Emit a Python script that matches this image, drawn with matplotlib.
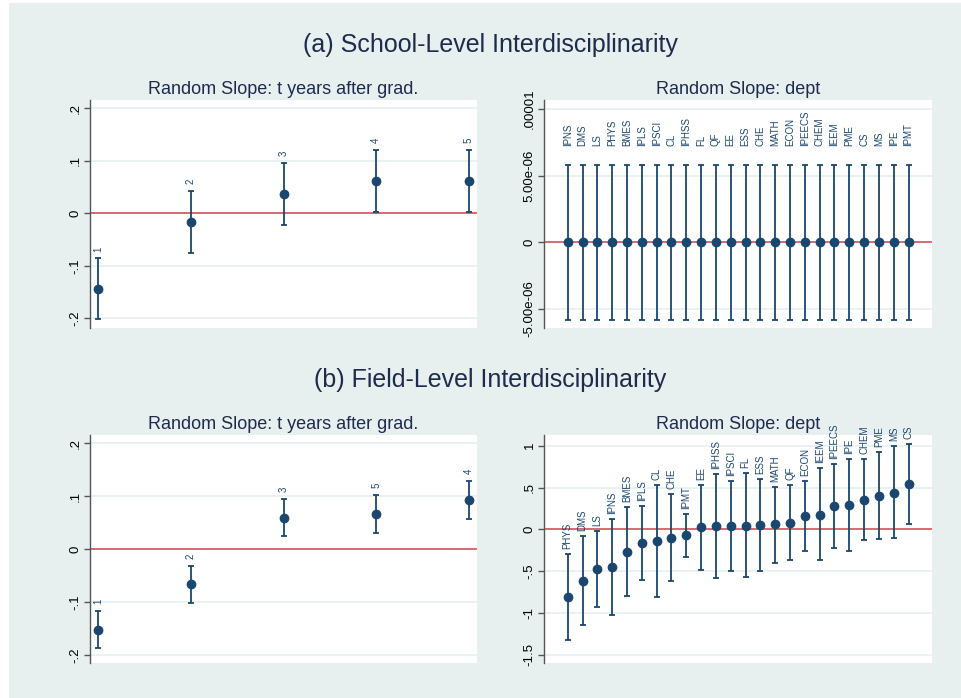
import matplotlib
matplotlib.use("Agg")
import matplotlib.pyplot as plt
from matplotlib.patches import Rectangle

plt.rcParams['font.family'] = ['Liberation Sans', 'DejaVu Sans']

# (a) school-level, random slope by t years after grad.
school_t_labels = ["1", "2", "3", "4", "5"]
school_t_est = [-0.144, -0.017, 0.037, 0.061, 0.062]
school_t_lo = [-0.202, -0.076, -0.022, 0.002, 0.003]
school_t_hi = [-0.086, 0.043, 0.096, 0.120, 0.121]

# (a) school-level, random slope by dept
school_dept_labels = ["IPNS", "DMS", "LS", "PHYS", "BMES", "IPLS", "IPSCI", "CL",
                      "IPHSS", "FL", "QF", "EE", "ESS", "CHE", "MATH", "ECON",
                      "IPEECS", "CHEM", "IEEM", "PME", "CS", "MS", "IPE", "IPMT"]
school_dept_est = [0.0, 0.0, 0.0, 0.0, 0.0, 0.0, 0.0, 0.0, 0.0, 0.0, 0.0, 0.0,
                   0.0, 0.0, 0.0, 0.0, 0.0, 0.0, 0.0, 0.0, 0.0, 0.0, 0.0, 0.0]
school_dept_lo = [-5.8e-6, -5.8e-6, -5.8e-6, -5.8e-6, -5.8e-6, -5.8e-6, -5.8e-6, -5.8e-6,
                  -5.8e-6, -5.8e-6, -5.8e-6, -5.8e-6, -5.8e-6, -5.8e-6, -5.8e-6, -5.8e-6,
                  -5.8e-6, -5.8e-6, -5.8e-6, -5.8e-6, -5.8e-6, -5.8e-6, -5.8e-6, -5.8e-6]
school_dept_hi = [5.8e-6, 5.8e-6, 5.8e-6, 5.8e-6, 5.8e-6, 5.8e-6, 5.8e-6, 5.8e-6,
                  5.8e-6, 5.8e-6, 5.8e-6, 5.8e-6, 5.8e-6, 5.8e-6, 5.8e-6, 5.8e-6,
                  5.8e-6, 5.8e-6, 5.8e-6, 5.8e-6, 5.8e-6, 5.8e-6, 5.8e-6, 5.8e-6]

# (b) field-level, random slope by t years after grad.
field_t_labels = ["1", "2", "3", "5", "4"]
field_t_est = [-0.1525, -0.067, 0.059, 0.066, 0.092]
field_t_lo = [-0.188, -0.102, 0.024, 0.031, 0.057]
field_t_hi = [-0.117, -0.0315, 0.094, 0.1015, 0.128]

# (b) field-level, random slope by dept
field_dept_labels = ["PHYS", "DMS", "LS", "IPNS", "BMES", "IPLS", "CL", "CHE",
                     "IPMT", "EE", "IPHSS", "IPSCI", "FL", "ESS", "MATH", "QF",
                     "ECON", "IEEM", "IPEECS", "IPE", "CHEM", "PME", "MS", "CS"]
field_dept_est = [-0.813, -0.614, -0.478, -0.447, -0.271, -0.167, -0.144, -0.104,
                  -0.068, 0.028, 0.036, 0.040, 0.044, 0.052, 0.060, 0.076,
                  0.159, 0.175, 0.279, 0.291, 0.355, 0.403, 0.439, 0.542]
field_dept_lo = [-1.328, -1.140, -0.933, -1.021, -0.801, -0.610, -0.813, -0.622,
                 -0.327, -0.490, -0.582, -0.498, -0.574, -0.502, -0.399, -0.371,
                 -0.263, -0.371, -0.219, -0.259, -0.132, -0.116, -0.108, 0.060]
field_dept_hi = [-0.295, -0.080, -0.020, 0.124, 0.263, 0.275, 0.530, 0.419,
                 0.187, 0.534, 0.658, 0.574, 0.670, 0.602, 0.510, 0.526,
                 0.582, 0.730, 0.785, 0.845, 0.845, 0.929, 0.997, 1.025]

NAVY = '#1a476f'
BG = '#e7efef'
GRID = '#e9f1f2'
RED = '#d9434f'
TITLE = '#1e2b4d'


def draw_panel(ax, labels, est, lo, hi, xlim, ylim, yticks, yticklabels,
               label_off, title):
    x = list(range(1, len(labels) + 1))
    ax.set_facecolor('white')
    for t in yticks:
        ax.axhline(t, color=GRID, lw=1.4, zorder=0)
    ax.axhline(0, color=RED, lw=1.1, zorder=1)
    yerr = [[e - l for e, l in zip(est, lo)], [h - e for e, h in zip(est, hi)]]
    ax.errorbar(x, est, yerr=yerr, fmt='o', color=NAVY, ecolor=NAVY,
                elinewidth=1.3, capsize=2.2, capthick=1.3, markersize=6,
                zorder=3)
    for xi, h, lab in zip(x, hi, labels):
        ax.annotate(lab, (xi, h), xytext=(0, label_off), textcoords='offset points',
                    rotation=90, ha='center', va='bottom', fontsize=7, color=NAVY)
    ax.set_xlim(*xlim)
    ax.set_ylim(*ylim)
    ax.set_xticks([])
    ax.set_yticks(yticks)
    ax.set_yticklabels(yticklabels, rotation=90, va='center', fontsize=9.5)
    ax.tick_params(axis='y', length=4, width=1, color='#555555', pad=2)
    for side in ['top', 'right', 'bottom']:
        ax.spines[side].set_visible(False)
    ax.spines['left'].set_color('#555555')
    ax.spines['left'].set_linewidth(1)
    ax.set_title(title, fontsize=13, color=TITLE, pad=4)


fig = plt.figure(figsize=(9.61, 6.98), dpi=100)
fig.patch.set_facecolor('white')
fig.patches.append(Rectangle((9 / 961, 0), 1, 1 - 3 / 698, transform=fig.transFigure,
                             facecolor=BG, edgecolor='none', zorder=-10))

W, H = 961, 698


def add_ax(left, top, right, bottom):
    return fig.add_axes([left / W, 1 - bottom / H, (right - left) / W, (bottom - top) / H])


ax1 = add_ax(90, 100, 477, 328)
ax2 = add_ax(544, 100, 932, 328)
ax3 = add_ax(90, 435, 477, 663)
ax4 = add_ax(544, 435, 932, 663)

draw_panel(ax1, school_t_labels, school_t_est, school_t_lo, school_t_hi,
           (0.91, 5.09), (-0.2185, 0.216), [-0.2, -0.1, 0, 0.1, 0.2],
           ['-.2', '-.1', '0', '.1', '.2'], 5, 'Random Slope: t years after grad.')
draw_panel(ax2, school_dept_labels, school_dept_est, school_dept_lo, school_dept_hi,
           (-0.6, 25.58), (-6.42e-6, 1.067e-5), [-5e-6, 0, 5e-6, 1e-5],
           ['-5.00e-06', '0', '5.00e-06', '.00001'], 13.4, 'Random Slope: dept')
draw_panel(ax3, field_t_labels, field_t_est, field_t_lo, field_t_hi,
           (0.91, 5.09), (-0.2155, 0.2155), [-0.2, -0.1, 0, 0.1, 0.2],
           ['-.2', '-.1', '0', '.1', '.2'], 5, 'Random Slope: t years after grad.')
draw_panel(ax4, field_dept_labels, field_dept_est, field_dept_lo, field_dept_hi,
           (-0.6, 25.58), (-1.599, 1.128), [-1.5, -1, -0.5, 0, 0.5, 1],
           ['-1.5', '-1', '-.5', '0', '.5', '1'], 3.6, 'Random Slope: dept')

fig.text(490 / W, 1 - 45 / H, '(a) School-Level Interdisciplinarity', fontsize=18,
         color=TITLE, ha='center', va='center')
fig.text(490 / W, 1 - 380 / H, '(b) Field-Level Interdisciplinarity', fontsize=18,
         color=TITLE, ha='center', va='center')

fig.savefig('out.png', dpi=100, facecolor=fig.get_facecolor())
